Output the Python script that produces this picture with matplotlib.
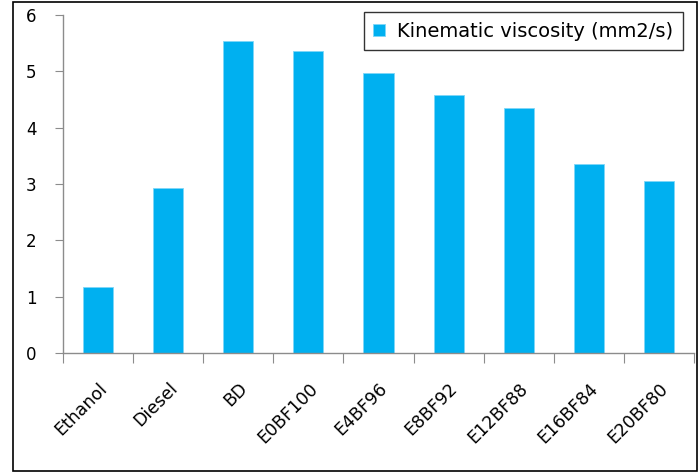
import matplotlib.pyplot as plt
import matplotlib.patches as mpatches
import numpy as np

# fuel samples and their kinematic viscosity
fuels = ["Ethanol", "Diesel", "BD", "E0BF100", "E4BF96", "E8BF92",
         "E12BF88", "E16BF84", "E20BF80"]
viscosity = [1.17, 2.93, 5.54, 5.36, 4.97, 4.58, 4.35, 3.36, 3.05]

plt.rcParams["font.family"] = "DejaVu Sans"

fig = plt.figure(figsize=(6.99, 4.74), dpi=100)
ax = fig.add_axes([0.0901, 0.2553, 0.9027, 0.7131])

x = np.arange(len(fuels))
ax.bar(x, viscosity, width=0.43, color="#00B0F0", edgecolor="#7FD6F7",
       linewidth=0.6, label="Kinematic viscosity (mm2/s)", zorder=2)

ax.set_xlim(-0.5, len(fuels) - 0.5)
ax.set_ylim(0, 6)
ax.set_yticks(range(0, 7))
ax.set_yticklabels([str(v) for v in range(0, 7)], fontsize=12)

# ticks sit between the categories, labels under the bars
ax.set_xticks(np.arange(-0.5, len(fuels)), minor=False)
ax.set_xticklabels([])
ax.set_xticks(x, minor=True)
ax.set_xticklabels(fuels, minor=True, rotation=45, ha="right",
                   rotation_mode="anchor", fontsize=12.5)
ax.tick_params(axis="x", which="minor", length=0, pad=19)
ax.tick_params(axis="x", which="major", length=7, color="#8c8c8c",
               direction="out")
ax.tick_params(axis="y", length=6, color="#8c8c8c", direction="out", pad=13)

for side in ["top", "right"]:
    ax.spines[side].set_visible(False)
for side in ["left", "bottom"]:
    ax.spines[side].set_color("#8c8c8c")
    ax.spines[side].set_linewidth(1.0)

leg = ax.legend(loc="upper right", bbox_to_anchor=(0.983, 1.009),
                fontsize=14, frameon=True, fancybox=False,
                handlelength=0.62, handleheight=0.62, handletextpad=0.62,
                borderpad=0.5, borderaxespad=0)
leg.get_frame().set_edgecolor("black")
leg.get_frame().set_linewidth(1.0)

# outer border around the whole chart
fig.patches.append(mpatches.Rectangle((0.0186, 0.006), 0.978, 0.989,
                                      transform=fig.transFigure,
                                      fill=False, edgecolor="black",
                                      linewidth=1.2))

fig.savefig("out.png", dpi=100)
